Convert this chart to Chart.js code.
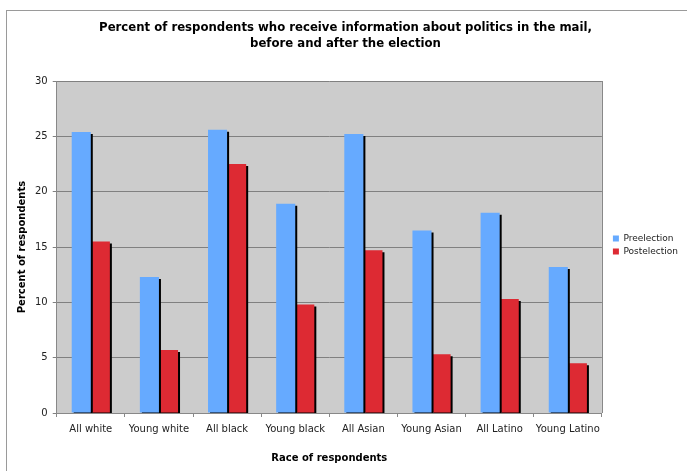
<!DOCTYPE html>
<html>
<head>
<meta charset="utf-8">
<script src="https://cdn.jsdelivr.net/npm/chart.js@4/dist/chart.umd.min.js"></script>
<style>
  html, body { margin: 0; padding: 0; background: #fff; }
  #wrap { position: relative; width: 687px; height: 471px; overflow: hidden; }
  #frame { position: absolute; left: 6px; top: 10px; width: 700px; height: 500px; border: 1px solid #9a9a9a; }
  canvas { position: absolute; left: 0; top: 0; }
</style>
</head>
<body>
<div id="wrap">
  <div id="frame"></div>
  <canvas id="chart" width="687" height="471"></canvas>
</div>
<script>
const groups = ["All white", "Young white", "All black", "Young black", "All Asian", "Young Asian", "All Latino", "Young Latino"];
const preelection = [25.4, 12.3, 25.6, 18.9, 25.2, 16.5, 18.1, 13.2];
const postelection = [15.5, 5.7, 22.5, 9.8, 14.7, 5.3, 10.3, 4.5];

// gray plot area with a thin outline
const plotBack = {
  id: "plotBack",
  beforeDraw(c) {
    const a = c.chartArea, ctx = c.ctx;
    ctx.save();
    ctx.fillStyle = "#cccccc";
    ctx.fillRect(a.left, a.top, a.right - a.left, a.bottom - a.top);
    ctx.restore();
  },
  afterDraw(c) {
    const a = c.chartArea, ctx = c.ctx;
    ctx.save();
    ctx.strokeStyle = "#888888";
    ctx.lineWidth = 1;
    ctx.beginPath();
    ctx.moveTo(Math.round(a.right) + 0.5, a.top);
    ctx.lineTo(Math.round(a.right) + 0.5, a.bottom);
    ctx.stroke();
    ctx.restore();
  }
};

// black drop shadow on the bars
const barShadow = {
  id: "barShadow",
  beforeDatasetDraw(c) {
    const ctx = c.ctx;
    ctx.save();
    ctx.shadowColor = "#000";
    ctx.shadowOffsetX = 2;
    ctx.shadowOffsetY = 2;
    ctx.shadowBlur = 0;
  },
  afterDatasetDraw(c) {
    c.ctx.restore();
  }
};

// push the legend a little away from the plot
const legendNudge = {
  id: "legendNudge",
  afterLayout(c) {
    if (c.legend) {
      c.legend.left += 7;
      c.legend.right += 7;
    }
  }
};

Chart.defaults.font.family = "'DejaVu Sans', Verdana, sans-serif";
Chart.defaults.color = "#222";

new Chart(document.getElementById("chart"), {
  type: "bar",
  data: {
    labels: groups,
    datasets: [
      { label: "Preelection", data: preelection, backgroundColor: "#66aaff", borderWidth: 0 },
      { label: "Postelection", data: postelection, backgroundColor: "#dd2a33", borderWidth: 0 }
    ]
  },
  options: {
    responsive: false,
    animation: false,
    devicePixelRatio: 1,
    layout: { padding: { top: 10, left: 10, right: 6, bottom: 7 } },
    datasets: { bar: { categoryPercentage: 0.56, barPercentage: 1 } },
    plugins: {
      title: {
        display: true,
        text: ["Percent of respondents who receive information about politics in the mail,", "before and after the election"],
        font: { family: "'DejaVu Sans Condensed', 'DejaVu Sans'", size: 13, weight: "bold", lineHeight: 1.25 },
        color: "#000",
        padding: { top: 9, bottom: 29.5 }
      },
      legend: {
        position: "right",
        title: { display: true, text: "", font: { size: 10 }, padding: { top: 2, bottom: 2 } },
        labels: { boxWidth: 6, boxHeight: 6, font: { size: 9 }, color: "#222", padding: 4 }
      },
      tooltip: { enabled: false }
    },
    scales: {
      x: {
        grid: { drawOnChartArea: false, color: "#888", tickLength: 4, offset: true },
        border: { color: "#888" },
        ticks: { font: { size: 10 }, color: "#222", maxRotation: 0, padding: 6 },
        title: { display: true, text: "Race of respondents", font: { size: 10, weight: "bold" }, color: "#000", padding: { top: 11, bottom: 0 } }
      },
      y: {
        min: 0, max: 30,
        grid: { color: "#808080", tickLength: 4 },
        border: { color: "#888" },
        ticks: { stepSize: 5, font: { size: 10 }, color: "#222", padding: 5 },
        title: { display: true, text: "Percent of respondents", font: { size: 10, weight: "bold" }, color: "#000", padding: { top: 6, bottom: 2 } }
      }
    }
  },
  plugins: [plotBack, barShadow, legendNudge]
});
</script>
</body>
</html>
